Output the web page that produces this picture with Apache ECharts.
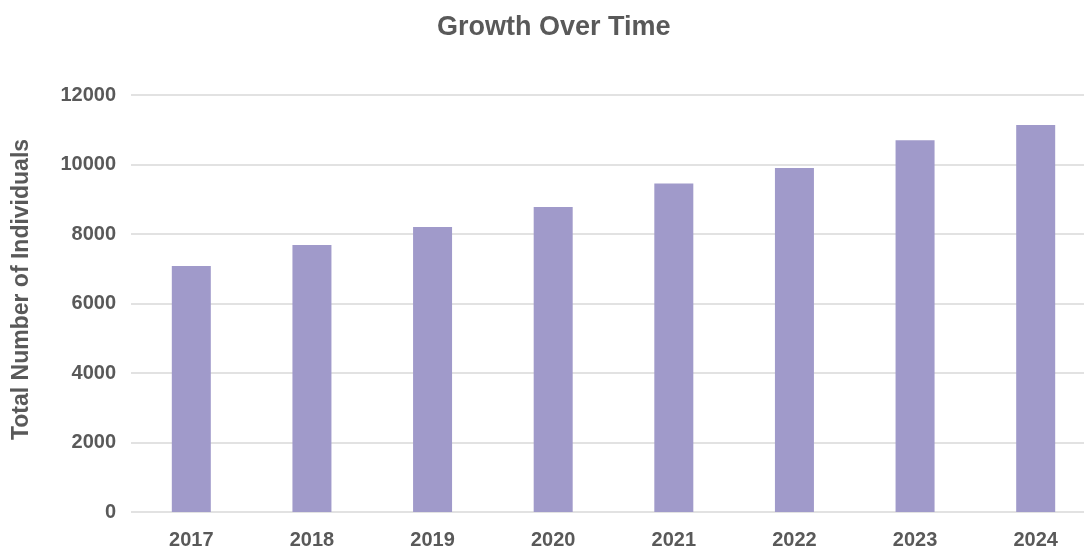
<!DOCTYPE html>
<html>
<head>
<meta charset="utf-8">
<script src="https://cdn.jsdelivr.net/npm/echarts@6/dist/echarts.min.js"></script>
<style>
html,body{margin:0;padding:0;background:#fff;}
#chart{width:1084px;height:552px;}
</style>
</head>
<body>
<div id="chart"></div>
<script>
const years = ['2017','2018','2019','2020','2021','2022','2023','2024'];
const totals = [7080, 7680, 8200, 8780, 9450, 9900, 10700, 11140];
const yTicks = { min: 0, max: 12000, interval: 2000 };

const FONT = "'Liberation Sans Narrow', 'Arial Narrow', 'Liberation Sans', Arial, sans-serif";
const chart = echarts.init(document.getElementById('chart'), null, {renderer: 'canvas'});
chart.setOption({
  animation: false,
  backgroundColor: '#ffffff',
  title: {
    text: 'Growth Over Time',
    left: 432,
    top: 9,
    textStyle: { fontFamily: FONT, fontWeight: 'bold', fontSize: 27, color: '#595959' }
  },
  grid: { left: 131, top: 95, width: 965, bottom: 40, containLabel: false, outerBoundsMode: 'none' },
  xAxis: {
    type: 'category',
    data: years,
    axisLine: { show: false },
    axisTick: { show: false },
    axisLabel: { fontFamily: FONT, fontWeight: 'bold', fontSize: 20, color: '#595959', margin: 18 }
  },
  yAxis: {
    type: 'value',
    min: yTicks.min, max: yTicks.max, interval: yTicks.interval,
    name: 'Total Number of Individuals',
    nameLocation: 'middle',
    nameGap: 98,
    nameTextStyle: { fontFamily: FONT, fontWeight: 'bold', fontSize: 23, color: '#595959', padding: [0, 0, 0, 28] },
    axisLine: { show: false },
    axisTick: { show: false },
    axisLabel: { fontFamily: FONT, fontWeight: 'bold', fontSize: 20, color: '#595959', margin: 15,
      formatter: function (v) { return String(v); } },
    splitLine: { lineStyle: { color: '#d9d9d9', width: 1.5 } }
  },
  series: [{
    type: 'bar',
    data: totals,
    barWidth: 39,
    itemStyle: { color: '#a09aca' }
  }]
});
</script>
</body>
</html>
